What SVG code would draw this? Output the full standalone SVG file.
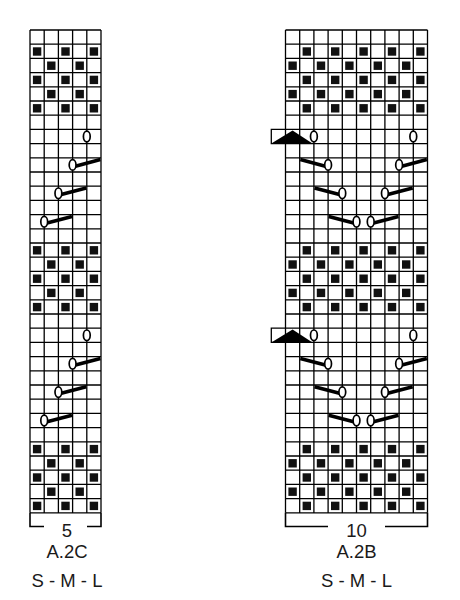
<svg xmlns="http://www.w3.org/2000/svg" width="460" height="600" viewBox="0 0 460 600">
<style>
.grid{fill:none;stroke:#000;stroke-width:1.3}
.sq{fill:#111}
.dec{stroke:#000;stroke-width:3.6;stroke-linecap:butt}
.yo{fill:#fff;stroke:#000;stroke-width:1.7}
.br{fill:none;stroke:#000;stroke-width:1.6}
text{font-family:"Liberation Sans",Arial,sans-serif;font-size:18.5px;fill:#1a1a1a;text-anchor:middle}
</style>
<defs>
<rect id="s" class="sq" width="8.4" height="8.4"/>
<g id="Lo"><use href="#s" x="32.9"/><use href="#s" x="61.3"/><use href="#s" x="89.7"/></g>
<g id="Le"><use href="#s" x="47.1"/><use href="#s" x="75.5"/></g>
<g id="Ro"><use href="#s" x="302.6"/><use href="#s" x="331"/><use href="#s" x="359.4"/><use href="#s" x="387.8"/><use href="#s" x="416.2"/></g>
<g id="Re"><use href="#s" x="288.4"/><use href="#s" x="316.8"/><use href="#s" x="345.2"/><use href="#s" x="373.6"/><use href="#s" x="402"/></g>
<g id="blkL"><use href="#Lo"/><use href="#Le" y="14.2"/><use href="#Lo" y="28.4"/><use href="#Le" y="42.6"/><use href="#Lo" y="56.8"/></g>
<g id="blkR"><use href="#Ro"/><use href="#Re" y="14.2"/><use href="#Ro" y="28.4"/><use href="#Re" y="42.6"/><use href="#Ro" y="56.8"/></g>
<g id="laceL">
<ellipse class="yo" cx="86.8" cy="136.5" rx="3.4" ry="5.3"/>
<line class="dec" x1="72.6" y1="166.9" x2="100.4" y2="159.6"/><ellipse class="yo" cx="72.6" cy="164.9" rx="3.4" ry="5.3"/>
<line class="dec" x1="58.4" y1="195.3" x2="86.2" y2="188"/><ellipse class="yo" cx="58.4" cy="193.3" rx="3.4" ry="5.3"/>
<line class="dec" x1="44.2" y1="223.7" x2="72" y2="216.4"/><ellipse class="yo" cx="44.2" cy="221.7" rx="3.4" ry="5.3"/>
</g>
<g id="laceR">
<polygon points="271.3,143.6 292.6,130.6 312.5,143.6" fill="#000"/>
<ellipse class="yo" cx="313.9" cy="136.5" rx="3.4" ry="5.3"/>
<ellipse class="yo" cx="413.3" cy="136.5" rx="3.4" ry="5.3"/>
<line class="dec" x1="300.3" y1="159.6" x2="328.1" y2="166.9"/><ellipse class="yo" cx="328.1" cy="164.9" rx="3.4" ry="5.3"/>
<line class="dec" x1="399.1" y1="166.9" x2="426.9" y2="159.6"/><ellipse class="yo" cx="399.1" cy="164.9" rx="3.4" ry="5.3"/>
<line class="dec" x1="314.5" y1="188" x2="342.3" y2="195.3"/><ellipse class="yo" cx="342.3" cy="193.3" rx="3.4" ry="5.3"/>
<line class="dec" x1="384.9" y1="195.3" x2="412.7" y2="188"/><ellipse class="yo" cx="384.9" cy="193.3" rx="3.4" ry="5.3"/>
<line class="dec" x1="328.7" y1="216.4" x2="356.5" y2="223.7"/><ellipse class="yo" cx="356.5" cy="221.7" rx="3.4" ry="5.3"/>
<line class="dec" x1="370.7" y1="223.7" x2="398.5" y2="216.4"/><ellipse class="yo" cx="370.7" cy="221.7" rx="3.4" ry="5.3"/>
</g>
</defs>
<rect width="460" height="600" fill="#fff"/>
<g id="chart-A2C">
<path class="grid" d="M30 30H101M30 44.2H101M30 58.4H101M30 72.6H101M30 86.8H101M30 101H101M30 115.2H101M30 129.4H101M30 143.6H101M30 157.8H101M30 172H101M30 186.2H101M30 200.4H101M30 214.6H101M30 228.8H101M30 243H101M30 257.2H101M30 271.4H101M30 285.6H101M30 299.8H101M30 314H101M30 328.2H101M30 342.4H101M30 356.6H101M30 370.8H101M30 385H101M30 399.2H101M30 413.4H101M30 427.6H101M30 441.8H101M30 456H101M30 470.2H101M30 484.4H101M30 498.6H101M30 512.8H101M30 30V512.8M44.2 30V512.8M58.4 30V512.8M72.6 30V512.8M86.8 30V512.8M101 30V512.8"/>
<use href="#blkL" y="47.3"/><use href="#blkL" y="246.1"/><use href="#blkL" y="444.9"/>
<use href="#laceL"/><use href="#laceL" y="198.8"/>
<path class="br" d="M30 512.8V526.5H44M87 526.5H101V512.8"/>
<text x="67" y="536.6">5</text>
<text x="67" y="558.3">A.2C</text>
<text x="67" y="586.6">S - M - L</text>
</g>
<g id="chart-A2B">
<path class="grid" d="M285.5 30H427.5M285.5 44.2H427.5M285.5 58.4H427.5M285.5 72.6H427.5M285.5 86.8H427.5M285.5 101H427.5M285.5 115.2H427.5M285.5 129.4H427.5M285.5 143.6H427.5M285.5 157.8H427.5M285.5 172H427.5M285.5 186.2H427.5M285.5 200.4H427.5M285.5 214.6H427.5M285.5 228.8H427.5M285.5 243H427.5M285.5 257.2H427.5M285.5 271.4H427.5M285.5 285.6H427.5M285.5 299.8H427.5M285.5 314H427.5M285.5 328.2H427.5M285.5 342.4H427.5M285.5 356.6H427.5M285.5 370.8H427.5M285.5 385H427.5M285.5 399.2H427.5M285.5 413.4H427.5M285.5 427.6H427.5M285.5 441.8H427.5M285.5 456H427.5M285.5 470.2H427.5M285.5 484.4H427.5M285.5 498.6H427.5M285.5 512.8H427.5M285.5 30V512.8M299.7 30V512.8M313.9 30V512.8M328.1 30V512.8M342.3 30V512.8M356.5 30V512.8M370.7 30V512.8M384.9 30V512.8M399.1 30V512.8M413.3 30V512.8M427.5 30V512.8M285.5 129.4H271.3V143.6H285.5M285.5 328.2H271.3V342.4H285.5"/>
<use href="#blkR" y="47.3"/><use href="#blkR" y="246.1"/><use href="#blkR" y="444.9"/>
<use href="#laceR"/><use href="#laceR" y="198.8"/>
<path class="br" d="M285.5 512.8V526.5H328M385 526.5H427.5V512.8"/>
<text x="356.5" y="536.6">10</text>
<text x="356.5" y="558.3">A.2B</text>
<text x="356.5" y="586.6">S - M - L</text>
</g>
</svg>
